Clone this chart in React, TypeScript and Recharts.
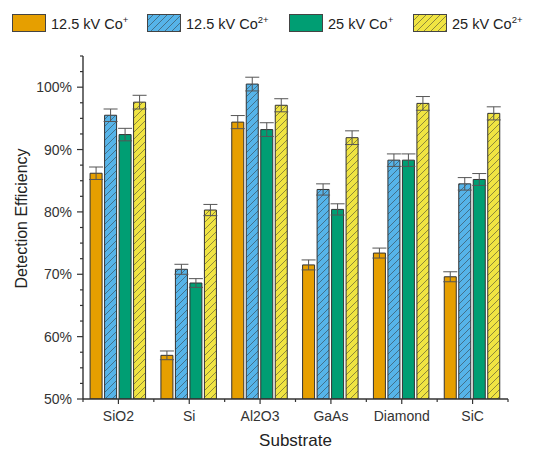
import { Bar, BarChart, ErrorBar, XAxis, YAxis } from 'recharts';

const SUBSTRATES = ['SiO2', 'Si', 'Al2O3', 'GaAs', 'Diamond', 'SiC'];
const CO1_12KV = [86.2, 57.0, 94.4, 71.5, 73.4, 69.6];
const CO2_12KV = [95.5, 70.8, 100.5, 83.6, 88.3, 84.5];
const CO1_25KV = [92.4, 68.6, 93.2, 80.4, 88.3, 85.2];
const CO2_25KV = [97.6, 80.3, 97.1, 91.9, 97.4, 95.8];
const ERR_CO1_12KV = [1.0, 0.7, 1.05, 0.8, 0.8, 0.8];
const ERR_CO2_12KV = [1.0, 0.8, 1.1, 0.9, 1.0, 1.0];
const ERR_CO1_25KV = [1.0, 0.7, 1.1, 0.9, 1.0, 0.95];
const ERR_CO2_25KV = [1.1, 0.9, 1.05, 1.1, 1.1, 1.05];

const Y_TICKS = [50, 52.5, 55, 57.5, 60, 62.5, 65, 67.5, 70, 72.5, 75, 77.5, 80, 82.5, 85, 87.5, 90, 92.5, 95, 97.5, 100, 102.5, 105];
const Y_MAJOR = [50, 60, 70, 80, 90, 100];

const COLORS = { orange: '#E69F00', blue: '#56B4E9', green: '#009E73', yellow: '#F0E442' };
const AXIS = '#333';

const data = SUBSTRATES.map((name, i) => ({
  name,
  a: CO1_12KV[i],
  ea: ERR_CO1_12KV[i],
  b: CO2_12KV[i],
  eb: ERR_CO2_12KV[i],
  c: CO1_25KV[i],
  ec: ERR_CO1_25KV[i],
  d: CO2_25KV[i],
  ed: ERR_CO2_25KV[i],
}));

const PLOT_W = 425;

function Hatch({ id, color }: { id: string; color: string }) {
  return (
    <pattern id={id} patternUnits="userSpaceOnUse" width={7} height={7}>
      <rect width={7} height={7} fill={color} />
      <path d="M0,7 L7,0 M-2,2 L2,-2 M5,9 L9,5" stroke="#333" strokeOpacity={0.65} strokeWidth={0.8} />
    </pattern>
  );
}

function YTick({ x, y, payload }: any) {
  const major = Y_MAJOR.includes(payload.value);
  return (
    <g>
      <line x1={x - (major ? 6 : 3)} x2={x} y1={y} y2={y} stroke={AXIS} strokeWidth={1.2} />
      {major && (
        <text x={x - 11} y={y} dy={5} textAnchor="end" fontSize={14} fill="#333">
          {payload.value}%
        </text>
      )}
    </g>
  );
}

function XTick({ x, y, payload, index }: any) {
  const half = payload.offset || PLOT_W / SUBSTRATES.length / 2;
  return (
    <g>
      <line x1={x} x2={x} y1={y} y2={y + 5} stroke={AXIS} strokeWidth={1.2} />
      <line x1={x + half} x2={x + half} y1={y} y2={y + 3} stroke={AXIS} strokeWidth={1.2} />
      {index === 0 && <line x1={x - half} x2={x - half} y1={y} y2={y + 3} stroke={AXIS} strokeWidth={1.2} />}
      <text x={x} y={y + 22} textAnchor="middle" fontSize={14} fill="#333">
        {payload.value}
      </text>
    </g>
  );
}

function Swatch({ color, hatched, id }: { color: string; hatched?: boolean; id: string }) {
  return (
    <svg width={34} height={18} style={{ display: 'block' }}>
      <defs>
        <Hatch id={id} color={color} />
      </defs>
      <rect x={0.5} y={0.5} width={33} height={17} fill={hatched ? `url(#${id})` : color} stroke="#444" />
    </svg>
  );
}

const LEGEND = [
  { label: '12.5 kV Co', sup: '+', color: COLORS.orange, hatched: false, left: 12 },
  { label: '12.5 kV Co', sup: '2+', color: COLORS.blue, hatched: true, left: 147 },
  { label: '25 kV Co', sup: '+', color: COLORS.green, hatched: false, left: 289 },
  { label: '25 kV Co', sup: '2+', color: COLORS.yellow, hatched: true, left: 413 },
];

export default function App() {
  return (
    <div
      style={{
        position: 'absolute',
        left: 0,
        top: 0,
        width: 555,
        height: 450,
        background: '#fff',
        fontFamily: '"Liberation Sans", Arial, sans-serif',
      }}
    >
      {LEGEND.map((item, i) => (
        <div
          key={i}
          style={{ position: 'absolute', left: item.left, top: 14, display: 'flex', alignItems: 'center', gap: 5, fontSize: 14.5, color: '#222', whiteSpace: 'nowrap' }}
        >
          <Swatch color={item.color} hatched={item.hatched} id={`lg${i}`} />
          <span>
            {item.label}
            <sup style={{ fontSize: 9.5 }}>{item.sup}</sup>
          </span>
        </div>
      ))}
      <BarChart
        width={555}
        height={450}
        data={data}
        margin={{ top: 56, right: 47, left: 0, bottom: 0 }}
        barCategoryGap="10%"
        barGap={2.5}
      >
        <defs>
          <Hatch id="hatchBlue" color={COLORS.blue} />
          <Hatch id="hatchYellow" color={COLORS.yellow} />
        </defs>
        <XAxis
          dataKey="name"
          height={51}
          tickSize={0}
          tickMargin={0}
          tick={<XTick />}
          axisLine={{ stroke: AXIS, strokeWidth: 1.4 }}
          interval={0}
          label={{ value: 'Substrate', position: 'insideBottom', offset: 4, fontSize: 17, fill: '#222' }}
        />
        <XAxis xAxisId="top" orientation="top" dataKey="name" height={0} tick={false} tickLine={false} axisLine={{ stroke: AXIS, strokeWidth: 1.4 }} />
        <YAxis
          width={83}
          domain={[50, 105]}
          ticks={Y_TICKS}
          interval={0}
          tickSize={0}
          tickMargin={0}
          tick={<YTick />}
          allowDataOverflow
          axisLine={{ stroke: AXIS, strokeWidth: 1.4 }}
          label={{
            value: 'Detection Efficiency',
            angle: -90,
            position: 'insideLeft',
            offset: 21,
            dy: -9,
            fontSize: 16,
            fill: '#222',
            style: { textAnchor: 'middle' },
          }}
        />
        <YAxis yAxisId="right" orientation="right" domain={[50, 105]} width={0} tick={false} tickLine={false} axisLine={{ stroke: AXIS, strokeWidth: 1.4 }} />
        <Bar dataKey="a" fill={COLORS.orange} stroke="#333" strokeWidth={1} isAnimationActive={false}>
          <ErrorBar dataKey="ea" width={7} stroke="#555" strokeWidth={1} />
        </Bar>
        <Bar dataKey="b" fill="url(#hatchBlue)" stroke="#333" strokeWidth={1} isAnimationActive={false}>
          <ErrorBar dataKey="eb" width={7} stroke="#555" strokeWidth={1} />
        </Bar>
        <Bar dataKey="c" fill={COLORS.green} stroke="#333" strokeWidth={1} isAnimationActive={false}>
          <ErrorBar dataKey="ec" width={7} stroke="#555" strokeWidth={1} />
        </Bar>
        <Bar dataKey="d" fill="url(#hatchYellow)" stroke="#333" strokeWidth={1} isAnimationActive={false}>
          <ErrorBar dataKey="ed" width={7} stroke="#555" strokeWidth={1} />
        </Bar>
      </BarChart>
    </div>
  );
}
